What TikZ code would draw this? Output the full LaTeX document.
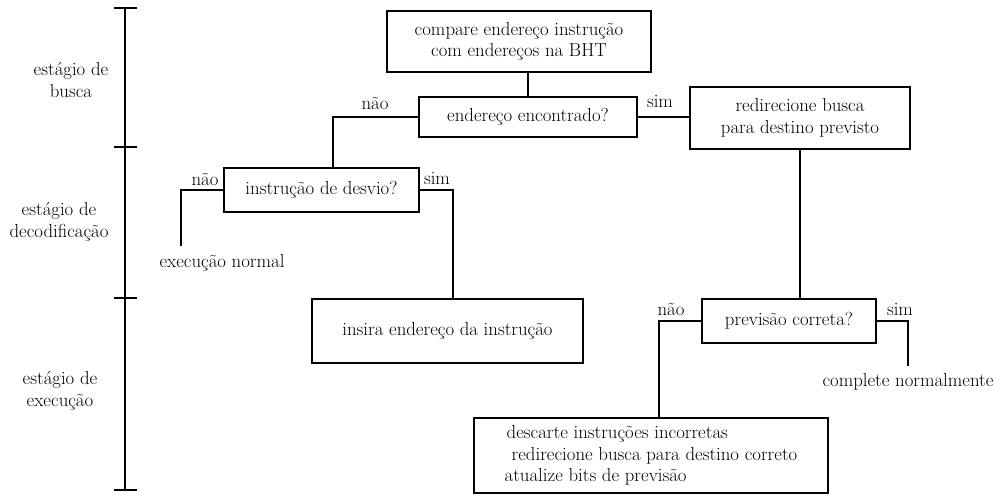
\documentclass[tikz,border=0pt]{standalone}
\begin{document}
\begin{tikzpicture}[x=1pt,y=-1pt,
  every node/.style={font=\fontsize{18.8}{21.5}\selectfont, inner sep=0pt},
  box/.style={draw, line width=1.5pt, align=center},
  link/.style={line width=1.5pt},
  lbl/.style={anchor=base},
  stage/.style={align=center}]
\useasboundingbox (0,0) rectangle (1005,495);

% pipeline stages scale
\draw[link] (125,8) -- (125,490);
\foreach \yy in {8,147,298,490} \draw[link] (114,\yy) -- (137,\yy);
\node[stage] (stBusca) at (71,80) {estágio de\\busca};
\node[stage] (stDecod) at (59,222) {estágio de\\decodificação};
\node[stage] (stExec) at (60,391) {estágio de\\execução};

% boxes
\node[box, minimum width=264pt, minimum height=61pt] (cmp) at (519,41.5)
  {compare endereço instrução\\com endereços na BHT};
\node[box, minimum width=218pt, minimum height=40pt] (found) at (528,117)
  {endereço encontrado?};
\node[box, minimum width=220pt, minimum height=62pt] (redir) at (800,118)
  {redirecione busca\\para destino previsto};
\node[box, minimum width=195pt, minimum height=44pt] (branch) at (321.5,190)
  {instrução de desvio?};
\node[box, minimum width=271pt, minimum height=64pt] (insert) at (447.5,331)
  {insira endereço da instrução};
\node[box, minimum width=174pt, minimum height=44pt] (check) at (789,321)
  {previsão correta?};
\node[box, align=left, minimum width=354pt, minimum height=75pt] (fix) at (651,455.5)
  {\hspace*{2pt}descarte instruções incorretas\\
   \hspace*{7pt}redirecione busca para destino correto\\
   atualize bits de previsão};

% free-standing outcomes
\node (normal) at (222,263) {execução normal};
\node (complete) at (908,382) {complete normalmente};

% connectors
\draw[link] (cmp.south -| found.north) -- (found.north);

\coordinate (n1) at (333,117);
\draw[link] (found.west) -- (n1) -- (n1 |- branch.north);
\node[lbl] (l1) at (375,110) {não};

\draw[link] (found.east) -- (found.east -| redir.west);
\node[lbl] (l2) at (660,108) {sim};

\draw[link] (redir.south) -- (redir.south |- check.north);

\coordinate (n2) at (181,190);
\coordinate (normEnd) at (181,246);
\draw[link] (branch.west) -- (n2) -- (normEnd);
\node[lbl] (l3) at (205,185) {não};

\coordinate (s2) at (453,190);
\draw[link] (branch.east) -- (s2) -- (s2 |- insert.north);
\node[lbl] (l4) at (437,184) {sim};

\coordinate (n3) at (659,321);
\draw[link] (check.west) -- (n3) -- (n3 |- fix.north);
\node[lbl] (l5) at (671,315) {não};

\coordinate (s3) at (908,321);
\coordinate (okEnd) at (908,366);
\draw[link] (check.east) -- (s3) -- (okEnd);
\node[lbl] (l6) at (900,315) {sim};
\end{tikzpicture}
\end{document}
